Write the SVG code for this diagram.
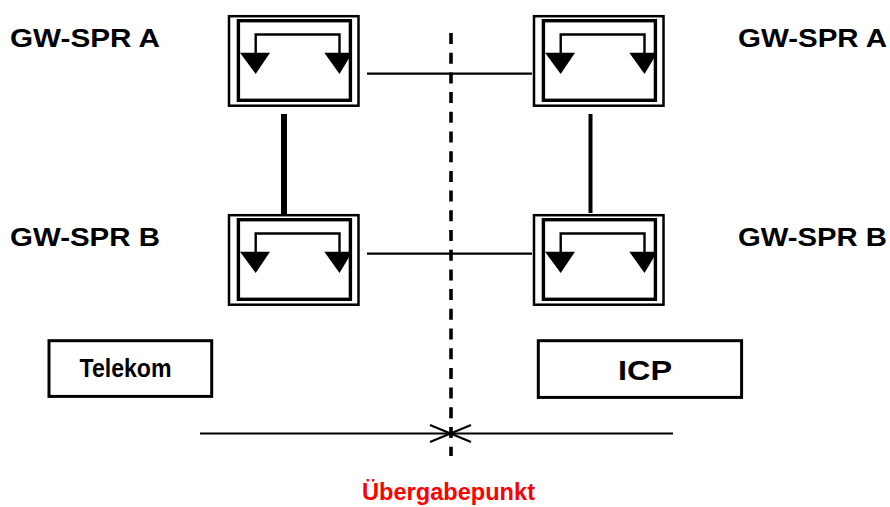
<svg xmlns="http://www.w3.org/2000/svg" width="890" height="507" viewBox="0 0 890 507">
  <style>
    .lbl { font-family: "Liberation Sans", Arial, sans-serif; font-weight: bold; fill: #000; }
    .red { fill: #ff0000; }
    .outer { fill: none; stroke: #000; stroke-width: 2.5; }
    .inner { fill: none; stroke: #000; stroke-width: 3.4; }
    .loop { fill: none; stroke: #000; stroke-width: 2.4; }
    .tri { fill: #000; }
    .box { fill: #fff; stroke: #000; stroke-width: 3; }
    .wire { stroke: #000; stroke-width: 2.2; fill: none; }
  </style>
  <defs>
    <!-- switch symbol: double frame with a looping bracket ending in two arrowheads -->
    <g id="switch">
      <rect class="outer" x="229" y="16.2" width="129.5" height="89.5"/>
      <rect class="inner" x="238.4" y="20.7" width="112" height="79.6"/>
      <polyline class="loop" points="255.7,54 255.7,34.5 339.5,34.5 339.5,54"/>
      <polygon class="tri" points="240,52.7 270,52.7 255.7,74"/>
      <polygon class="tri" points="324.3,52.7 352.3,52.7 339.5,74"/>
    </g>
  </defs>

  <rect width="890" height="507" fill="#fff"/>

  <g id="connectors">
    <line class="wire" x1="367" y1="73.7" x2="532" y2="73.7"/>
    <line class="wire" x1="367" y1="253.7" x2="532" y2="253.7"/>
    <line stroke="#000" stroke-width="6" x1="284" y1="114" x2="284" y2="214"/>
    <line stroke="#000" stroke-width="4" x1="590.5" y1="114" x2="590.5" y2="213"/>
    <!-- hand-over boundary -->
    <line stroke="#000" stroke-width="3.6" stroke-dasharray="11 8.7" x1="451" y1="33" x2="451" y2="456"/>
    <line class="wire" x1="200" y1="433.5" x2="673" y2="433.5"/>
    <line class="wire" x1="430" y1="425" x2="471" y2="442"/>
    <line class="wire" x1="430" y1="442" x2="471" y2="425"/>
  </g>

  <g id="gw-spr-a-left"><use href="#switch"/></g>
  <g id="gw-spr-b-left"><use href="#switch" transform="translate(0,199)"/></g>
  <g id="gw-spr-a-right"><use href="#switch" transform="translate(305,0)"/></g>
  <g id="gw-spr-b-right"><use href="#switch" transform="translate(305,199)"/></g>

  <g id="labels">
    <text class="lbl" x="10" y="46.7" font-size="25.5" textLength="150" lengthAdjust="spacingAndGlyphs">GW-SPR A</text>
    <text class="lbl" x="738" y="46.7" font-size="25.5" textLength="149" lengthAdjust="spacingAndGlyphs">GW-SPR A</text>
    <text class="lbl" x="10" y="245.5" font-size="25.5" textLength="150" lengthAdjust="spacingAndGlyphs">GW-SPR B</text>
    <text class="lbl" x="738" y="245.5" font-size="25.5" textLength="149" lengthAdjust="spacingAndGlyphs">GW-SPR B</text>
  </g>

  <g id="telekom">
    <rect class="box" x="49" y="340.7" width="162.7" height="55.7"/>
    <text class="lbl" x="79.5" y="376.5" font-size="26" textLength="92" lengthAdjust="spacingAndGlyphs">Telekom</text>
  </g>

  <g id="icp">
    <rect class="box" x="538.3" y="340.7" width="203.3" height="56.7" stroke-width="3.3"/>
    <text class="lbl" x="618" y="380" font-size="28" textLength="54" lengthAdjust="spacingAndGlyphs">ICP</text>
  </g>

  <g id="uebergabepunkt">
    <text class="lbl red" x="362" y="500" font-size="23.5" textLength="173" lengthAdjust="spacingAndGlyphs">Übergabepunkt</text>
  </g>
</svg>
